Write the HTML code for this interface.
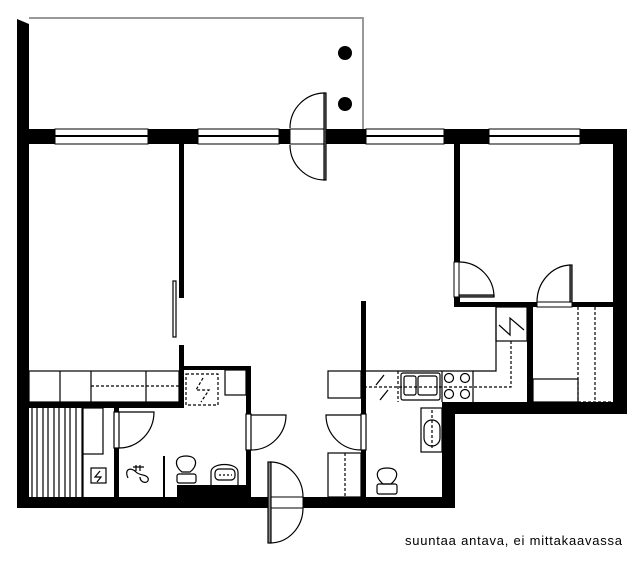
<!DOCTYPE html>
<html><head><meta charset="utf-8"><style>
html,body{margin:0;padding:0;background:#fff;width:640px;height:563px;overflow:hidden}
svg{display:block}
</style></head><body>
<svg width="640" height="563" viewBox="0 0 640 563" xmlns="http://www.w3.org/2000/svg">
<polyline points="29,18 363,18 363,129" fill="none" stroke="#999" stroke-width="2"/>
<circle cx="345" cy="53" r="7" fill="#000"/>
<circle cx="345" cy="104" r="7" fill="#000"/>
<g fill="#000">
<polygon points="17,19 29,24 29,508 17,508"/>
<rect x="17" y="129" width="610" height="15"/>
<rect x="613" y="129" width="14" height="285"/>
<rect x="442" y="402" width="185" height="12"/>
<rect x="442" y="402" width="13" height="106"/>
<rect x="17" y="497" width="438" height="11"/>
<rect x="179" y="144" width="5" height="154"/>
<rect x="179" y="345" width="5" height="63"/>
<rect x="29" y="402" width="155" height="6"/>
<rect x="183" y="366" width="68" height="4"/>
<rect x="246" y="366" width="5" height="48"/>
<rect x="246" y="450" width="5" height="48"/>
<rect x="114" y="408" width="5" height="90"/>
<rect x="177" y="485" width="70" height="13"/>
<rect x="454" y="144" width="6" height="118"/>
<rect x="454" y="297" width="6" height="10"/>
<rect x="454" y="302" width="83" height="5"/>
<rect x="572" y="302" width="42" height="5"/>
<rect x="361" y="301" width="5" height="114"/>
<rect x="361" y="450" width="5" height="48"/>
<rect x="527" y="307" width="6" height="96"/>
</g>
<g fill="#fff" stroke="#000" stroke-width="1">
<rect x="55" y="129" width="93" height="15"/><rect x="198" y="129" width="81" height="15"/>
<rect x="366" y="129" width="78" height="15"/><rect x="489" y="129" width="91" height="15"/>
<rect x="290" y="129" width="35" height="15"/>
<rect x="268" y="497" width="35" height="11"/>
<rect x="454" y="262" width="5" height="35"/>
<rect x="537" y="302" width="35" height="5"/>
</g>
<g stroke="#000" stroke-width="2">
<line x1="55" y1="136" x2="148" y2="136"/><line x1="198" y1="136" x2="279" y2="136"/>
<line x1="366" y1="136" x2="444" y2="136"/><line x1="489" y1="136" x2="580" y2="136"/>
</g>
<g fill="none" stroke="#000" stroke-width="1.2">
<rect x="324" y="93" width="2" height="87" fill="#888"/>
<path d="M325,93 A35,35 0 0 0 290,128 M290,145 A35,35 0 0 0 325,180"/>
<rect x="173" y="281" width="3" height="56"/>
<rect x="459" y="295" width="35" height="2" fill="#888"/>
<path d="M459,262 A35,35 0 0 1 494,297"/>
<rect x="570" y="265" width="2" height="37" fill="#888"/>
<path d="M570,265 A35,37 0 0 0 537,302"/>
<rect x="114" y="412" width="5" height="36" fill="#fff"/>
<path d="M119,412 H154 A35,36 0 0 1 119,448"/>
<rect x="246" y="414" width="5" height="36" fill="#fff"/>
<path d="M251,415 H286 A35,35 0 0 1 251,450"/>
<rect x="361" y="414" width="5" height="36" fill="#fff"/>
<path d="M361,415 H326 A35,35 0 0 0 361,450"/>
<rect x="268" y="462" width="3" height="81" fill="#888"/>
<path d="M270,462 A33,35 0 0 1 303,497 M303,508 A33,35 0 0 1 270,543"/>
<rect x="29" y="371" width="150" height="31"/>
<path d="M60,371V402M91,371V402M146,371V402"/>
<path d="M91,386H179" stroke-dasharray="3,2"/>
<rect x="186" y="374" width="32" height="31" stroke-dasharray="3,2"/>
<path d="M203,378 L196,390 L209,390 L201,402" stroke-dasharray="3,2"/>
<rect x="225" y="370" width="21" height="25"/>
<path d="M32,408V497M37,408V497M43,408V497M48,408V497M54,408V497M59,408V497M65,408V497M70,408V497M76,408V497M82,408V497"/>
<rect x="83" y="408" width="20" height="46"/>
<path d="M83,454V497"/>
<rect x="91" y="468" width="15" height="15"/>
<path d="M100,471 L95,477 L101,477 L97,482"/>
<path d="M164,456V497" stroke-width="2"/>
<path d="M182,472 C174,466 174,456 186,456 C198,456 198,466 190,472 Z"/>
<rect x="177" y="474" width="19" height="9" rx="2"/>
<path d="M211,485 V472 C211,462 238,462 238,472 V485"/>
<rect x="215" y="469" width="20" height="11" rx="4"/>
<path d="M219,475 H232" stroke-dasharray="2,2"/>
<path d="M136,465V471M140,465V471M133,467H144M128,478 C124,470 130,466 136,472 C140,476 146,474 148,478 C150,484 140,484 140,477"/>
<path d="M366,371 H496 V307"/>
<rect x="496" y="307" width="31" height="34"/>
<path d="M499,325 L510,335 L510,318 L524,330"/>
<path d="M511,341 V387 H366" stroke-dasharray="3,2"/>
<path d="M398,371 V402" stroke-dasharray="3,2"/>
<path d="M442,371 V402 M473,371 V402"/>
<rect x="401" y="373" width="39" height="27" rx="2"/>
<rect x="404" y="376" width="12" height="19" rx="2"/>
<rect x="418" y="376" width="19" height="19" rx="2"/>
<path d="M376,385 L384,375 M380,400 L388,390"/>
<circle cx="449" cy="378" r="4.5"/><circle cx="465" cy="378" r="4.5"/>
<circle cx="449" cy="394" r="4.5"/><circle cx="465" cy="394" r="4.5"/>
<rect x="328" y="371" width="33" height="27"/>
<rect x="533" y="379" width="45" height="23"/>
<path d="M578,307V402M595,307V402M578,402H612" stroke-dasharray="3,2"/>
<rect x="421" y="408" width="21" height="44"/>
<rect x="424" y="420" width="16" height="26" rx="8"/>
<path d="M432,410V450" stroke-dasharray="3,2"/>
<path d="M383,484 C374,476 376,468 387,468 C398,468 400,476 391,484 Z"/>
<rect x="377" y="484" width="20" height="10" rx="2"/>
<rect x="328" y="453" width="33" height="44"/>
<path d="M345,453V497" stroke-dasharray="3,2"/>
</g>
<text x="405" y="545" font-family="Liberation Sans, sans-serif" font-size="13" textLength="217" fill="#000">suuntaa antava, ei mittakaavassa</text>
</svg>
</body></html>
